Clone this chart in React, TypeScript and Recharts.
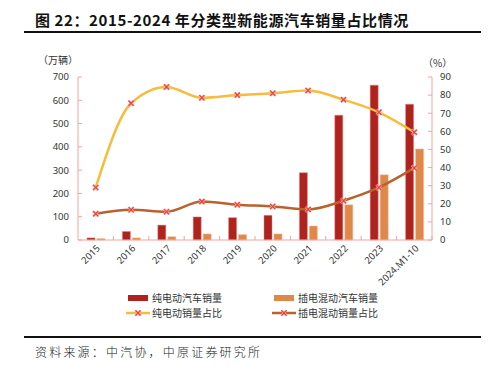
import React from 'react';
import { ComposedChart, Bar, Line, XAxis, YAxis } from 'recharts';

const categories = ['2015', '2016', '2017', '2018', '2019', '2020', '2021', '2022', '2023', '2024.M1-10'];
const bevSales = [9, 37, 64, 99, 96, 106, 289, 536, 665, 583];
const phevSales = [6, 9, 14, 26, 23, 26, 60, 151, 280, 391];
const bevShare = [29, 75.5, 84.5, 78.5, 80, 81, 82.5, 77.5, 70.5, 59.5];
const phevShare = [14.5, 16.7, 15.6, 21.2, 19.5, 18.5, 16.9, 21.7, 29, 39.8];
const leftTicks = [0, 100, 200, 300, 400, 500, 600, 700];
const rightTicks = [0, 10, 20, 30, 40, 50, 60, 70, 80, 90];

const data = categories.map((c, i) => ({
  name: c,
  bev: bevSales[i],
  phev: phevSales[i],
  bevShare: bevShare[i],
  phevShare: phevShare[i],
}));

const C_BEV = '#B0221D';
const C_PHEV = '#E0884A';
const C_BEV_LINE = '#F7BC3C';
const C_PHEV_LINE = '#B8622E';
const C_MARK = '#EC3A33';
const C_AXIS = '#F2A3A3';
const FONT = '"Noto Sans", "Noto Sans CJK SC", sans-serif';
const CJK = '"Noto Sans CJK SC", sans-serif';

const XMark = (props: any) => {
  const { cx, cy } = props;
  if (cx == null || cy == null) return null;
  const r = 2.6;
  const d = `M${cx - r},${cy - r}L${cx + r},${cy + r}M${cx - r},${cy + r}L${cx + r},${cy - r}`;
  return (
    <g>
      <path d={d} stroke="#F7B0AE" strokeWidth={2.4} />
      <path d={d} stroke={C_MARK} strokeWidth={1.1} />
    </g>
  );
};

const XTick = (props: any) => {
  const { x, y, payload } = props;
  const step = 354 / categories.length;
  return (
    <g>
      <line x1={x + step / 2} y1={y} x2={x + step / 2} y2={y - 4} stroke={C_AXIS} strokeWidth={1} />
      <text
        x={x + 5}
        y={y + 9}
        transform={`rotate(-45, ${x + 5}, ${y + 9})`}
        textAnchor="end"
        fontSize={9.5}
        fill="#333"
        fontFamily={FONT}
      >
        {payload.value}
      </text>
    </g>
  );
};

const LegendRect = ({ color }: { color: string }) => (
  <svg width={22} height={8} style={{ display: 'block' }}>
    <rect x={1} y={1} width={20} height={6} fill={color} />
  </svg>
);

const LegendLine = ({ color }: { color: string }) => (
  <svg width={24} height={10} style={{ display: 'block' }}>
    <line x1={0} y1={5} x2={24} y2={5} stroke={color} strokeWidth={2.5} />
    <XMark cx={12} cy={5} />
  </svg>
);

const legendText: React.CSSProperties = {
  fontFamily: CJK,
  fontSize: 10,
  color: '#333',
  whiteSpace: 'nowrap',
};

export default function App() {
  return (
    <div style={{ position: 'absolute', left: 0, top: 0, width: 488, height: 372, background: '#fff', overflow: 'hidden' }}>
      <div
        style={{
          position: 'absolute',
          left: 35,
          top: 10,
          fontFamily: CJK,
          fontWeight: 700,
          fontSize: 15,
          letterSpacing: 0.6,
          color: '#111',
          whiteSpace: 'nowrap',
          lineHeight: '20px',
        }}
      >
        图 22：2015-2024 年分类型新能源汽车销量占比情况
      </div>
      <div style={{ position: 'absolute', left: 24, top: 31, width: 457, height: 2, background: '#111' }} />

      <div style={{ position: 'absolute', left: 38, top: 52, fontFamily: CJK, fontSize: 10, color: '#333', whiteSpace: 'nowrap' }}>
        （万辆）
      </div>
      <div style={{ position: 'absolute', left: 423, top: 55, fontFamily: CJK, fontSize: 10, color: '#333', whiteSpace: 'nowrap' }}>
        （%）
      </div>

      <div style={{ position: 'absolute', left: 0, top: 0 }}>
        <ComposedChart
          width={488}
          height={290}
          data={data}
          margin={{ top: 77, right: 0, bottom: 0, left: 0 }}
          barSize={8}
          barGap={2}
        >
          <XAxis
            dataKey="name"
            height={50}
            axisLine={{ stroke: C_AXIS }}
            tickLine={false}
            tickSize={0}
            tickMargin={0}
            interval={0}
            tick={<XTick />}
          />
          <YAxis
            yAxisId="left"
            orientation="left"
            width={78}
            domain={[0, 700]}
            ticks={leftTicks}
            axisLine={{ stroke: C_AXIS }}
            tickLine={{ stroke: C_AXIS }}
            tickSize={-4}
            tickMargin={13}
            tick={{ fontSize: 9.5, fill: '#333', fontFamily: FONT }}
          />
          <YAxis
            yAxisId="right"
            orientation="right"
            width={56}
            domain={[0, 90]}
            ticks={rightTicks}
            axisLine={{ stroke: C_AXIS }}
            tickLine={{ stroke: C_AXIS }}
            tickSize={-4}
            tickMargin={12}
            tick={{ fontSize: 9.5, fill: '#333', fontFamily: FONT }}
          />
          <Bar yAxisId="left" dataKey="bev" fill={C_BEV} stroke="#D88A86" strokeWidth={0.5} isAnimationActive={false} />
          <Bar yAxisId="left" dataKey="phev" fill={C_PHEV} stroke="#F0B894" strokeWidth={0.5} isAnimationActive={false} />
          <Line
            yAxisId="right"
            type="monotone"
            dataKey="bevShare"
            stroke={C_BEV_LINE}
            strokeWidth={2.5}
            dot={<XMark />}
            activeDot={false}
            isAnimationActive={false}
          />
          <Line
            yAxisId="right"
            type="monotone"
            dataKey="phevShare"
            stroke={C_PHEV_LINE}
            strokeWidth={2.5}
            dot={<XMark />}
            activeDot={false}
            isAnimationActive={false}
          />
        </ComposedChart>
      </div>

      <div style={{ position: 'absolute', left: 127, top: 290, display: 'flex', alignItems: 'center' }}>
        <LegendRect color={C_BEV} />
        <span style={{ ...legendText, marginLeft: 3 }}>纯电动汽车销量</span>
      </div>
      <div style={{ position: 'absolute', left: 273, top: 290, display: 'flex', alignItems: 'center' }}>
        <LegendRect color={C_PHEV} />
        <span style={{ ...legendText, marginLeft: 3 }}>插电混动汽车销量</span>
      </div>
      <div style={{ position: 'absolute', left: 126, top: 305, display: 'flex', alignItems: 'center' }}>
        <LegendLine color={C_BEV_LINE} />
        <span style={{ ...legendText, marginLeft: 2 }}>纯电动销量占比</span>
      </div>
      <div style={{ position: 'absolute', left: 272, top: 305, display: 'flex', alignItems: 'center' }}>
        <LegendLine color={C_PHEV_LINE} />
        <span style={{ ...legendText, marginLeft: 2 }}>插电混动销量占比</span>
      </div>

      <div style={{ position: 'absolute', left: 24, top: 336, width: 457, height: 2, background: '#111' }} />
      <div
        style={{
          position: 'absolute',
          left: 35,
          top: 343,
          fontFamily: CJK,
          fontWeight: 300,
          fontSize: 12,
          letterSpacing: 2.2,
          color: '#222',
          whiteSpace: 'nowrap',
          lineHeight: '18px',
        }}
      >
        资料来源：中汽协，中原证券研究所
      </div>
    </div>
  );
}
